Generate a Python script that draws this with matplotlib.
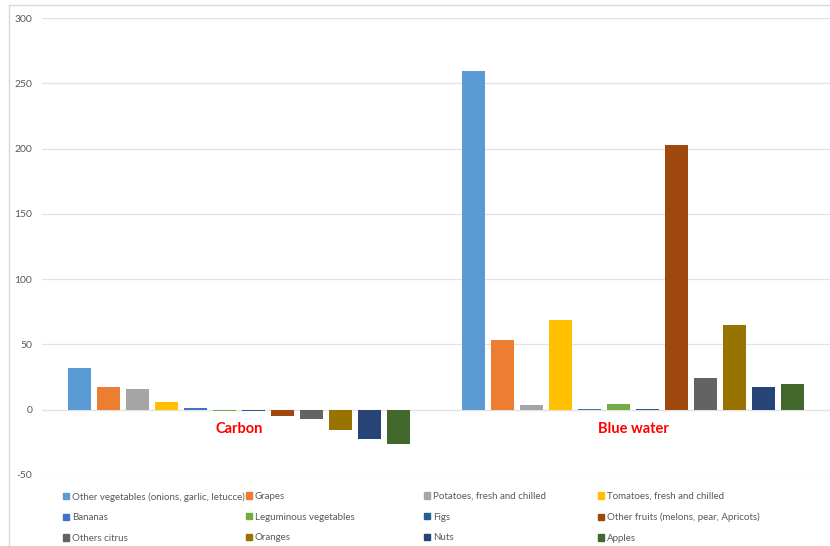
import matplotlib
matplotlib.use("Agg")
import matplotlib.pyplot as plt
from matplotlib.lines import Line2D
from matplotlib.patches import Patch

plt.rcParams["axes.unicode_minus"] = False
plt.rcParams["font.family"] = ["Lato", "DejaVu Sans"]

groups = ["Carbon", "Blue water"]
products = [
    "Other vegetables (onions, garlic, letucce)", "Grapes",
    "Potatoes, fresh and chilled", "Tomatoes, fresh and chilled",
    "Bananas", "Leguminous vegetables", "Figs",
    "Other fruits (melons, pear, Apricots)", "Others citrus",
    "Oranges", "Nuts", "Apples",
]
carbon = [32, 17.5, 16, 6, 1.5, -0.7, -1, -5, -7, -15.5, -22.7, -26]
blue_water = [259.5, 53.6, 3.3, 69, 0.6, 4, 0.6, 202.8, 24, 65, 17.4, 20]
colors = ["#5B9BD5", "#ED7D31", "#A5A5A5", "#FFC000", "#4472C4", "#70AD47",
          "#255E91", "#9E480E", "#636363", "#997300", "#264478", "#43682B"]

fig = plt.figure(figsize=(8.3, 5.46), dpi=100)
ax = fig.add_axes([42 / 830, 71 / 546, 788 / 830, 457 / 546])

slot = 0.0736
width = 0.058
for i, name in enumerate(products):
    xs = [g + (i - 5.5) * slot for g in range(len(groups))]
    ax.bar(xs, [carbon[i], blue_water[i]], width=width, color=colors[i],
           linewidth=0, label=name, zorder=3)

ax.set_xlim(-0.5, 1.5)
ax.set_ylim(-50, 300)
ax.set_yticks(range(-50, 301, 50))
ax.grid(axis="y", color="#e3e3e3", linewidth=0.9, zorder=0)
for s in ["top", "right", "left"]:
    ax.spines[s].set_visible(False)
ax.spines["bottom"].set_position(("data", 0))
ax.spines["bottom"].set_color("#e3e3e3")
ax.set_xticks(range(len(groups)))
ax.set_xticklabels(groups, color="#FF0000", fontweight="bold", fontsize=10.5)
ax.tick_params(axis="x", length=0, pad=9)
ax.tick_params(axis="y", length=0, pad=7, labelcolor="#595959", labelsize=7.5)

# chart area border
fig.add_artist(Line2D([9 / 830, 9 / 830], [0, 541 / 546], color="#d9d9d9", lw=1))
fig.add_artist(Line2D([9 / 830, 1], [541 / 546, 541 / 546], color="#d9d9d9", lw=1))

# legend: 4 columns, filled row by row
col_x = [63, 246, 424, 598]
for c in range(4):
    idx = [r * 4 + c for r in range(3)]
    handles = [Patch(color=colors[k]) for k in idx]
    fig.legend(handles, [products[k] for k in idx], loc="upper left",
               bbox_to_anchor=(col_x[c] / 830, 1 - 492 / 546), frameon=False,
               handlelength=0.6, handleheight=0.6, handletextpad=0.3,
               labelspacing=1.2, borderpad=0, borderaxespad=0,
               prop={"size": 7}, labelcolor="#595959")

fig.savefig("out.png", dpi=100)
